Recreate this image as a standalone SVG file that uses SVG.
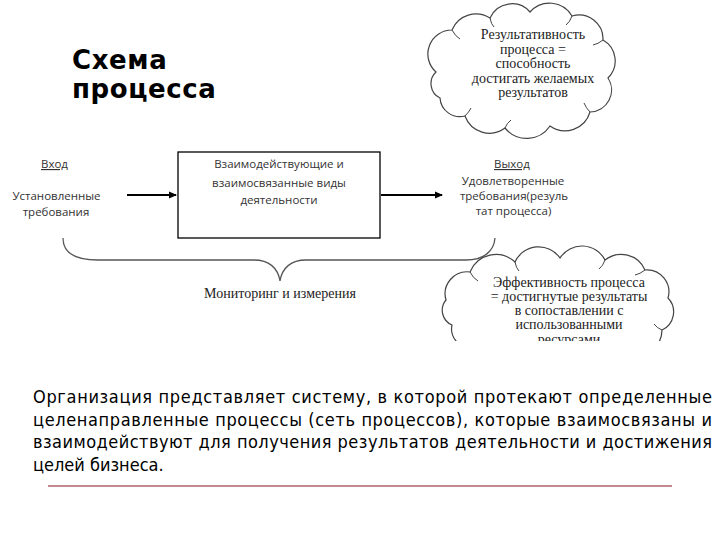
<svg xmlns="http://www.w3.org/2000/svg" width="720" height="540" viewBox="0 0 720 540">
<style>
.title{font-family:"DejaVu Sans","Verdana",sans-serif;font-weight:bold;font-size:26px;letter-spacing:0.6px;fill:#000}
.sans{font-family:"Open Sans","Noto Sans",sans-serif;font-size:11.5px;fill:#333}
.serif{font-family:"Liberation Serif","Times New Roman",serif;font-size:14px;fill:#222}
.para{font-family:"DejaVu Sans Condensed","DejaVu Sans",sans-serif;font-size:18px;fill:#000}
.cloud{fill:#fff;stroke:#444;stroke-width:1.2}
.conn{stroke:#000;stroke-width:2;fill:none}
.brace{stroke:#555;stroke-width:1.3;fill:none}
</style>
<defs>
<marker id="ah" markerWidth="8" markerHeight="8" refX="7" refY="4" orient="auto" markerUnits="userSpaceOnUse">
<path d="M0,0.5 L8,4 L0,7.5 Z" fill="#000"/>
</marker>
<clipPath id="clipB"><rect x="0" y="0" width="720" height="341"/></clipPath>
</defs>
<rect width="720" height="540" fill="#fff"/>

<g id="title">
<text class="title" x="72" y="69">Схема</text>
<text class="title" x="72" y="98">процесса</text>
</g>

<g id="input">
<text class="sans" x="41" y="168" text-decoration="underline">Вход</text>
<text class="sans" x="56.5" y="200" text-anchor="middle">Установленные</text>
<text class="sans" x="56" y="216" text-anchor="middle">требования</text>
</g>

<g id="process">
<rect x="178" y="152" width="202" height="86" fill="#fff" stroke="#000" stroke-width="1.3"/>
<text class="sans" x="279" y="168" text-anchor="middle">Взаимодействующие и</text>
<text class="sans" x="279" y="187" text-anchor="middle">взаимосвязанные виды</text>
<text class="sans" x="279" y="204" text-anchor="middle">деятельности</text>
</g>

<g id="output">
<text class="sans" x="494" y="168" text-decoration="underline">Выход</text>
<text class="sans" x="513" y="185" text-anchor="middle">Удовлетворенные</text>
<text class="sans" x="514" y="200" text-anchor="middle">требования(резуль</text>
<text class="sans" x="513.5" y="215" text-anchor="middle">тат процесса)</text>
</g>

<g id="connectors">
<line class="conn" x1="127" y1="195" x2="176" y2="195" marker-end="url(#ah)"/>
<line class="conn" x1="381" y1="195" x2="442" y2="195" marker-end="url(#ah)"/>
<path class="brace" d="M63,238 C63,252 74,260 98,260 L254,260 C269,260 278,268 280,281 C282,268 291,260 306,260 L466,260 C484,260 494,251 495,238"/>
</g>

<g id="monitoring">
<text class="serif" x="280" y="298" text-anchor="middle">Мониторинг и измерения</text>
</g>

<g id="cloud-result">
<path class="cloud" d="M436,72 A24,24 0 0 1 452,30 A26,26 0 0 1 490,18 A24,24 0 0 1 530,12 A26,26 0 0 1 572,16 A24,24 0 0 1 603,40 A24,24 0 0 1 608,78 A22,22 0 0 1 590,112 A26,26 0 0 1 550,126 A28,28 0 0 1 505,128 A26,26 0 0 1 465,116 A20,20 0 0 1 440,98 A16,16 0 0 1 436,72 Z"/>
<path d="M452,30 q3,6 8,9 M490,18 q1,6 4,9 M572,16 q-2,6 -6,9 M603,40 q-5,4 -10,5 M590,112 q-4,-4 -6,-9 M505,128 q2,-5 6,-8 M465,116 q4,-4 6,-8" fill="none" stroke="#444" stroke-width="1"/>
<text class="serif" x="533" y="39" text-anchor="middle">Результативность</text>
<text class="serif" x="533" y="54" text-anchor="middle">процесса =</text>
<text class="serif" x="533" y="68" text-anchor="middle">способность</text>
<text class="serif" x="533" y="83" text-anchor="middle">достигать желаемых</text>
<text class="serif" x="533" y="97" text-anchor="middle">результатов</text>
</g>

<g id="cloud-efficiency" clip-path="url(#clipB)">
<path class="cloud" d="M446,300 A22,22 0 0 1 470,272 A28,28 0 0 1 515,262 A26,26 0 0 1 560,258 A26,26 0 0 1 605,260 A26,26 0 0 1 645,270 A22,22 0 0 1 668,298 A20,20 0 0 1 662,330 A26,26 0 0 1 630,355 A30,30 0 0 1 580,362 A32,32 0 0 1 525,360 A30,30 0 0 1 478,345 A18,18 0 0 1 452,325 A16,16 0 0 1 446,300 Z"/>
<path d="M470,272 q3,6 8,9 M515,262 q1,6 4,9 M605,260 q-2,6 -6,9 M645,270 q-5,4 -10,5 M662,330 q-5,-2 -8,-6" fill="none" stroke="#444" stroke-width="1"/>
<text class="serif" x="569" y="287" text-anchor="middle">Эффективность процесса</text>
<text class="serif" x="569" y="301" text-anchor="middle">= достигнутые результаты</text>
<text class="serif" x="569" y="315" text-anchor="middle">в сопоставлении с</text>
<text class="serif" x="569" y="329" text-anchor="middle">использованными</text>
<text class="serif" x="569" y="344" text-anchor="middle">ресурсами</text>
</g>

<g id="paragraph">
<text class="para" x="33" y="403" textLength="679" lengthAdjust="spacing">Организация представляет систему, в которой протекают определенные</text>
<text class="para" x="33" y="425.5" textLength="679" lengthAdjust="spacing">целенаправленные процессы (сеть процессов), которые взаимосвязаны и</text>
<text class="para" x="33" y="448" textLength="679" lengthAdjust="spacing">взаимодействуют для получения результатов деятельности и достижения</text>
<text class="para" x="33" y="470.5">целей бизнеса.</text>
</g>

<line x1="48" y1="486" x2="672" y2="486" stroke="#c08a90" stroke-width="2"/>
</svg>
